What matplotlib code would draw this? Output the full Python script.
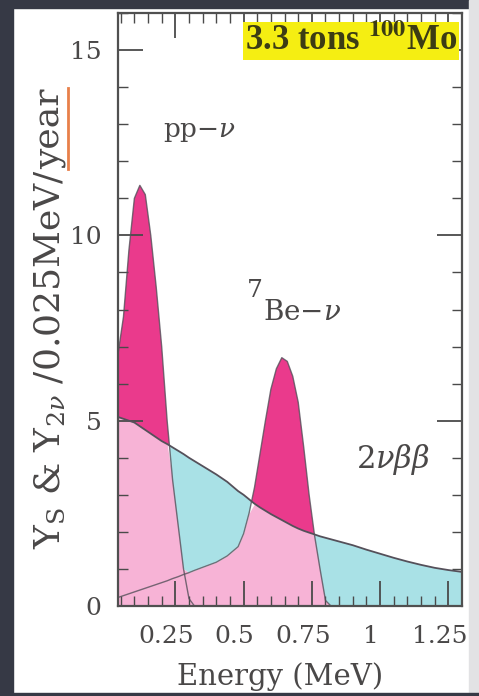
import numpy as np
import matplotlib
matplotlib.use("Agg")
import matplotlib.pyplot as plt
from matplotlib.patches import Rectangle
from matplotlib.lines import Line2D
from matplotlib.transforms import ScaledTranslation

# energy grid (MeV) shared by all curves
energy = [0.04, 0.06, 0.08, 0.10, 0.12, 0.14, 0.16, 0.18, 0.20, 0.22, 0.24,
          0.26, 0.28, 0.30, 0.32, 0.36, 0.40, 0.44, 0.48, 0.50, 0.52, 0.54,
          0.56, 0.58, 0.60, 0.62, 0.64, 0.66, 0.68, 0.70, 0.72, 0.74, 0.76,
          0.78, 0.80, 0.82, 0.86, 0.90, 0.95, 1.00, 1.05, 1.10, 1.15, 1.20,
          1.25, 1.30]

# pp-nu signal
y_pp = [6.8, 7.8, 9.6, 11.0, 11.35, 11.1, 10.0, 8.6, 7.0, 5.0, 3.4,
        2.2, 1.0, 0.2, 0.0, 0.0, 0.0, 0.0, 0.0, 0.0, 0.0, 0.0,
        0.0, 0.0, 0.0, 0.0, 0.0, 0.0, 0.0, 0.0, 0.0, 0.0, 0.0,
        0.0, 0.0, 0.0, 0.0, 0.0, 0.0, 0.0, 0.0, 0.0, 0.0, 0.0,
        0.0, 0.0]

# 7Be-nu signal (with low energy continuum)
y_be7 = [0.23, 0.28, 0.33, 0.38, 0.43, 0.48, 0.53, 0.58, 0.63, 0.68, 0.74,
         0.79, 0.85, 0.90, 0.96, 1.07, 1.18, 1.35, 1.60, 1.95, 2.50, 3.20,
         4.10, 5.00, 5.85, 6.40, 6.70, 6.60, 6.20, 5.50, 4.30, 3.00, 1.90,
         1.00, 0.15, 0.0, 0.0, 0.0, 0.0, 0.0, 0.0, 0.0, 0.0, 0.0,
         0.0, 0.0]

# 2nu-beta-beta background
y_2nu = [5.10, 5.05, 5.00, 4.95, 4.85, 4.75, 4.65, 4.55, 4.45, 4.37, 4.28,
         4.19, 4.10, 4.00, 3.91, 3.73, 3.55, 3.35, 3.10, 3.00, 2.88, 2.76,
         2.66, 2.57, 2.48, 2.40, 2.32, 2.24, 2.16, 2.09, 2.03, 1.98, 1.93,
         1.88, 1.84, 1.80, 1.72, 1.64, 1.52, 1.41, 1.30, 1.20, 1.11, 1.03,
         0.97, 0.92]

x_ticks = [0.25, 0.5, 0.75, 1.0, 1.25]
x_tick_labels = ["0.25", "0.5", "0.75", "1", "1.25"]
y_ticks = [0, 5, 10, 15]

magenta = "#ea3a8c"
pink = "#f7b3d6"
cyan = "#a9e1e6"
line_col = "#55505a"
text_col = "#4a4848"

plt.rcParams["font.family"] = ["DejaVu Serif"]
plt.rcParams["mathtext.fontset"] = "dejavuserif"

fig = plt.figure(figsize=(4.79, 6.96), dpi=100)
fig.patch.set_facecolor("white")

# photo frame around the slide
fig.add_artist(Rectangle((0, 0), 13 / 479, 1, transform=fig.transFigure,
                         color="#363945", zorder=0))
fig.add_artist(Rectangle((0, 1 - 8 / 696), 1, 8 / 696, transform=fig.transFigure,
                         color="#363945", zorder=0))
fig.add_artist(Rectangle((1 - 10 / 479, 0), 10 / 479, 1, transform=fig.transFigure,
                         color="#e2e2e4", zorder=0))
fig.add_artist(Rectangle((0, 0), 1, 3 / 696, transform=fig.transFigure,
                         color="#363945", zorder=0))

ax = fig.add_axes([118 / 479, 1 - 606 / 696, 344 / 479, 593 / 696])

E = np.array(energy)
pp = np.array(y_pp)
be = np.array(y_be7)
bg = np.array(y_2nu)
sig = np.maximum(pp, be)
low = np.minimum(sig, bg)

ax.fill_between(E, 0, low, color=pink, lw=0)
ax.fill_between(E, bg, sig, where=sig >= bg, interpolate=True, color=magenta, lw=0)
ax.fill_between(E, sig, bg, where=bg >= sig, interpolate=True, color=cyan, lw=0)

ax.plot(E, pp, color=line_col, lw=1.0, alpha=0.8)
ax.plot(E, be, color=line_col, lw=1.0, alpha=0.8)
ax.plot(E, bg, color=line_col, lw=1.3)

ax.set_xlim(0.04, 1.3)
ax.set_ylim(0, 16)
ax.set_xticks(x_ticks)
ax.set_xticklabels(x_tick_labels)
ax.set_xticks(np.arange(0.05, 1.3, 0.05), minor=True)
ax.set_yticks(y_ticks)
ax.set_yticks(np.arange(0, 16.5, 1), minor=True)

ax.tick_params(which="both", direction="in", top=True, right=True,
               colors="#4a4a4a", labelcolor=text_col, labelsize=18)
ax.tick_params(which="major", length=18, width=1.3)
ax.tick_params(which="minor", length=7, width=1.0)
ax.tick_params(axis="y", pad=12)
ax.tick_params(axis="x", pad=14)
for lab in ax.get_xticklabels():
    lab.set_transform(lab.get_transform() + ScaledTranslation(-9 / 100, 0, fig.dpi_scale_trans))
for sp in ax.spines.values():
    sp.set_color("#505050")
    sp.set_linewidth(1.6)

ax.set_xlabel("Energy (MeV)", fontsize=21, color=text_col)
ax.xaxis.set_label_coords(0.471, -0.095)

# annotations
ax.text(0.203, 12.8, r"pp$-\nu$", fontsize=19, color=text_col, va="center", ha="left")
ax.text(0.512, 8.52, "7", fontsize=18, color=text_col, va="center", ha="left")
ax.text(0.57, 7.93, r"Be$-\nu$", fontsize=20, color=text_col, va="center", ha="left")
ax.text(0.912, 3.94, r"$2\nu\beta\beta$", fontsize=22, color=text_col, va="center", ha="left")
ax.text(0.985, 0.953, r"3.3 tons $^{\mathbf{100}}$Mo", transform=ax.transAxes,
        family=["Liberation Serif"], fontweight="bold", fontsize=25,
        math_fontfamily="stix", color="#3c3c14", ha="right", va="center",
        bbox=dict(facecolor="#f5ee12", edgecolor="none", pad=1.5))

# y label with underlined "year"
ylab = fig.text(50 / 479, 1 - 549 / 696, r"Y$_{\rm S}$ & Y$_{2\nu}$ /0.025MeV/",
                rotation=90, fontsize=26, color=text_col, ha="center", va="bottom")
fig.canvas.draw()
bb = ylab.get_window_extent().transformed(fig.transFigure.inverted())
year = fig.text(50 / 479, bb.y1, "year", rotation=90, fontsize=26,
                color=text_col, ha="center", va="bottom")
fig.canvas.draw()
yb = year.get_window_extent().transformed(fig.transFigure.inverted())
fig.add_artist(Line2D([yb.x1 + 1 / 479, yb.x1 + 1 / 479], [yb.y0, yb.y1],
                      transform=fig.transFigure, color="#e8804a", lw=2.0))

fig.savefig("out.png", dpi=100)
